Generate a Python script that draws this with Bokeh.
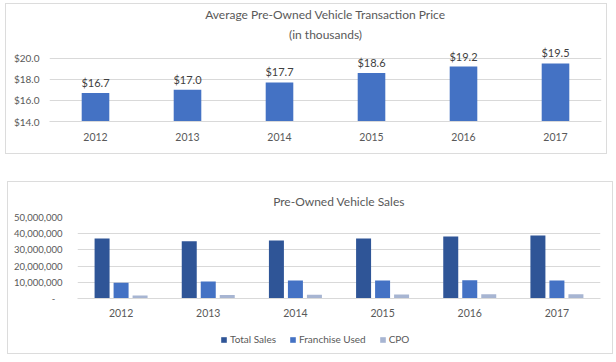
from bokeh.plotting import figure
from bokeh.models import (ColumnDataSource, FactorRange, Range1d, FixedTicker, Title,
                          Legend, LegendItem, NumeralTickFormatter, Spacer)
from bokeh.layouts import column
from bokeh.transform import dodge
from bokeh.embed import file_html
from bokeh.resources import INLINE
from bokeh.core.properties import value

# ---------------- data ----------------
years = ["2012", "2013", "2014", "2015", "2016", "2017"]
avg_price = [16.7, 17.0, 17.7, 18.6, 19.2, 19.5]
price_ticks = [14, 16, 18, 20]
price_tick_labels = ["$14.0", "$16.0", "$18.0", "$20.0"]

total_sales = [37.0e6, 35.4e6, 35.8e6, 37.0e6, 38.3e6, 38.9e6]
franchise_used = [9.7e6, 10.5e6, 11.1e6, 11.1e6, 11.3e6, 11.1e6]
cpo = [1.8e6, 2.1e6, 2.3e6, 2.5e6, 2.6e6, 2.6e6]
sales_ticks = [0, 10e6, 20e6, 30e6, 40e6, 50e6]

title1 = "Average Pre-Owned Vehicle Transaction Price"
title1b = "(in thousands)"
title2 = "Pre-Owned Vehicle Sales"
series_names = ["Total Sales", "Franchise Used", "CPO"]

FONT = "Lato"
GRID = "#d9d9d9"
TXT = "#595959"
C_TOTAL = "#2F5597"
C_FR = "#4472C4"
C_CPO = "#A7B5D2"
BOX = {"border": "1px solid #dcdcdc", "box-sizing": "border-box"}


def style_axes(p, ystand, xstand, ysize):
    for ax in (p.xaxis[0], p.yaxis[0]):
        ax.major_tick_line_color = None
        ax.minor_tick_line_color = None
        ax.major_label_text_font = FONT
        ax.major_label_text_color = TXT
    p.xaxis.major_label_text_font_size = "10.5px"
    p.yaxis.major_label_text_font_size = ysize
    p.yaxis.axis_line_color = None
    p.xaxis.axis_line_color = GRID
    p.yaxis.major_label_standoff = ystand
    p.xaxis.major_label_standoff = xstand
    p.xgrid.grid_line_color = None
    p.ygrid.grid_line_color = GRID
    p.outline_line_color = None


# ---------------- top chart ----------------
src1 = ColumnDataSource(dict(year=years, price=avg_price,
                             lbl=["${:.1f}".format(v) for v in avg_price]))

p1 = figure(x_range=FactorRange(factors=years, range_padding=0),
            y_range=Range1d(14, 21.2),
            width=602, height=151, output_backend="svg", toolbar_location=None,
            min_border_left=43, min_border_right=7, min_border_top=10,
            min_border_bottom=34, title=None)
p1.margin = (3, 0, 0, 5)
p1.styles = BOX
p1.vbar(x="year", top="price", bottom=14, width=0.3, source=src1,
        fill_color=C_FR, line_color=None)
p1.text(x="year", y="price", text="lbl", source=src1, text_align="center",
        text_baseline="bottom", y_offset=-4, text_font=value(FONT),
        text_font_size="11px", text_color="#404040")
p1.yaxis.ticker = FixedTicker(ticks=price_ticks)
p1.yaxis.major_label_overrides = dict(zip(price_ticks, price_tick_labels))
p1.ygrid.ticker = FixedTicker(ticks=price_ticks)
style_axes(p1, 4, 5, "10px")

p1.add_layout(Title(text=title1b, align="center", text_font=FONT, text_font_size="12px",
                    text_font_style="normal", text_color=TXT, standoff=7), "above")
p1.add_layout(Title(text=title1, align="center", text_font=FONT, text_font_size="12px",
                    text_font_style="normal", text_color=TXT, standoff=0), "above")

# ---------------- bottom chart ----------------
src2 = ColumnDataSource(dict(year=years, total=total_sales, fr=franchise_used, cpo=cpo))

p2 = figure(x_range=FactorRange(factors=years, range_padding=0),
            y_range=Range1d(0, 50e6),
            width=604, height=145, output_backend="svg", toolbar_location=None,
            min_border_left=69, min_border_right=12, min_border_top=10,
            min_border_bottom=29, title=None)
for key, off, col in (("total", -0.218, C_TOTAL), ("fr", 0.0, C_FR), ("cpo", 0.218, C_CPO)):
    p2.vbar(x=dodge("year", off, range=p2.x_range), top=key, width=0.172,
            source=src2, fill_color=col, line_color=None)

p2.yaxis.ticker = FixedTicker(ticks=sales_ticks)
p2.yaxis.formatter = NumeralTickFormatter(format="0,0")
p2.yaxis.major_label_overrides = {0: "-\u00a0\u00a0\u00a0"}
p2.ygrid.ticker = FixedTicker(ticks=sales_ticks)
style_axes(p2, 9, 4, "9.5px")

p2.add_layout(Title(text=title2, align="center", text_font=FONT, text_font_size="12px",
                    text_font_style="normal", text_color=TXT, standoff=18), "above")

# legend strip (its own small plot; its bar renderers lie far outside the visible range)
pleg = figure(x_range=FactorRange(factors=years, range_padding=0),
              y_range=Range1d(1e8, 1.1e8), width=604, height=20,
              output_backend="svg", toolbar_location=None,
              x_axis_location=None, y_axis_location=None,
              min_border_left=0, min_border_right=0, min_border_top=0,
              min_border_bottom=0, title=None)
pleg.xgrid.grid_line_color = None
pleg.ygrid.grid_line_color = None
pleg.outline_line_color = None
leg_r = []
for key, col in (("total", C_TOTAL), ("fr", C_FR), ("cpo", C_CPO)):
    leg_r.append(pleg.vbar(x="year", top=key, width=0.172, source=src2,
                           fill_color=col, line_color=None))

legend = Legend(items=[LegendItem(label=value(n), renderers=[r])
                       for n, r in zip(series_names, leg_r)],
                orientation="horizontal", location=(143, 2),
                glyph_width=7, glyph_height=7, label_standoff=3, spacing=13,
                label_height=12, padding=2, margin=0,
                label_text_font=FONT, label_text_font_size="10px",
                label_text_color=TXT, border_line_color=None,
                background_fill_alpha=0)
pleg.add_layout(legend, "center")

box2 = column(p2, pleg, Spacer(height=6), spacing=0)
box2.styles = BOX
box2.margin = (0, 0, 0, 7)

layout = column(p1, Spacer(height=27), box2, spacing=0)

with open("out.html", "w") as f:
    f.write(file_html(layout, INLINE))
